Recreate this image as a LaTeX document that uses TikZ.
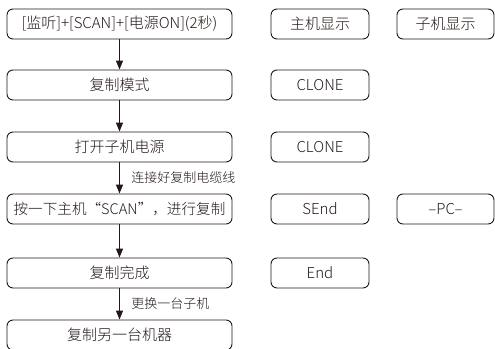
\documentclass[tikz,border=0pt]{standalone}
\usepackage{fontspec}
\setmainfont{Noto Sans CJK SC}[UprightFont=* Light]
\usetikzlibrary{arrows.meta}
\definecolor{ink}{HTML}{231815}

\begin{document}
\begin{tikzpicture}
        [x=1pt,y=-1pt,
         flow/.style={draw=ink,line width=0.9pt,rounded corners=6pt,minimum width=225pt,minimum height=30pt,inner sep=0pt,text=ink,font=\fontsize{15}{17}\selectfont},
         disp/.style={flow,minimum width=98pt},
         note/.style={anchor=west,xshift=8pt,text=ink,font=\fontsize{13}{15}\selectfont},
         go/.style={draw=ink,line width=1.2pt,-{Triangle[width=7pt,length=9pt]}}]
        \useasboundingbox (0,0) rectangle (495,348);
        % main flow
        \path node at (119.5,24) [flow] (keys) {[监听]+[SCAN]+[电源ON](2秒)}
              node at (119.5,85) [flow] (mode) {复制模式}
              node at (119.5,147) [flow] (power) {打开子机电源}
              node at (119.5,209) [flow,font=\fontsize{14.6}{17}\selectfont] (copy) {按一下主机“SCAN”，进行复制}
              node at (119.5,273) [flow] (done) {复制完成}
              node at (119.5,335) [flow] (next) {复制另一台机器};
        % displays
        \path node at (320,24) [disp] (mainhd) {主机显示}
              node at (320,85) [disp] (main1) {CLONE}
              node at (320,147) [disp] (main2) {CLONE}
              node at (320,209) [disp] (main3) {SEnd}
              node at (320,273) [disp] (main4) {End}
              node at (445.5,24) [disp,minimum width=97pt] (subhd) {子机显示}
              node at (445.5,209) [disp,minimum width=97pt] (sub1) {–PC–};
        \draw[go] (keys) -- (mode);
        \draw[go] (mode) -- (power);
        \draw[go] (power) -- node[note] {连接好复制电缆线} (copy);
        \draw[go] (copy) -- (done);
        \draw[go] (done) -- node[note] {更换一台子机} (next);
\end{tikzpicture}
\end{document}
